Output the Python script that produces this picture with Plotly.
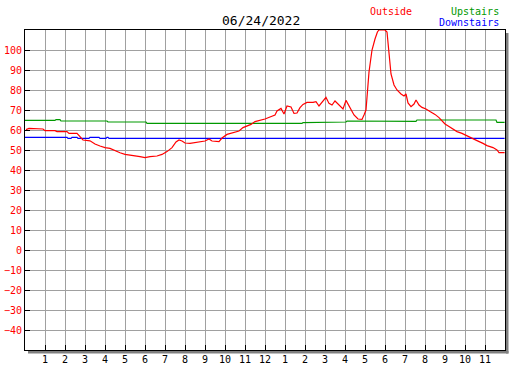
import plotly.graph_objects as go

title_text = "06/24/2022"

outside_hours = [0.05, 0.2, 0.9, 1.0, 1.5, 1.6, 2.1, 2.2, 2.6, 2.75, 2.9, 3.25, 3.5, 3.75, 4.0, 4.25,
                 4.5, 4.75, 5.0, 5.25, 5.5, 5.75, 6.0, 6.25, 6.6, 6.85, 7.1, 7.35, 7.55, 7.7, 7.85,
                 8.0, 8.25, 8.5, 8.75, 9.0, 9.2, 9.35, 9.7, 9.85, 10.1, 10.4, 10.7, 10.9, 11.1, 11.3,
                 11.5, 11.75, 12.0, 12.25, 12.5, 12.6, 12.8, 12.95, 13.1, 13.3, 13.45, 13.6, 13.75,
                 13.9, 14.1, 14.4, 14.55, 14.7, 14.9, 15.05, 15.2, 15.35, 15.5, 15.7, 15.9, 16.05,
                 16.25, 16.45, 16.65, 16.85, 16.95, 17.05, 17.2, 17.35, 17.5, 17.62, 17.7, 18.0,
                 18.1, 18.2, 18.3, 18.45, 18.6, 18.8, 18.95, 19.05, 19.15, 19.3, 19.45, 19.55, 19.7,
                 19.85, 20.05, 20.25, 20.5, 20.7, 20.85, 21.0, 21.2, 21.4, 21.6, 21.85, 22.1, 22.4,
                 22.6, 22.9, 23.1, 23.4, 23.6, 23.7, 23.98]
outside_values = [60.2, 60.8, 60.5, 59.7, 59.7, 59.2, 59.2, 58.3, 58.3, 56.8, 55.0, 54.6, 53.0, 52.0,
                  51.2, 50.8, 49.5, 48.6, 47.8, 47.5, 47.0, 46.7, 46.2, 46.7, 47.0, 47.8, 49.2, 51.2,
                  54.0, 55.0, 54.5, 53.5, 53.3, 53.7, 54.2, 54.5, 55.5, 54.5, 54.2, 56.0, 57.8, 58.5,
                  59.5, 61.2, 62.0, 62.8, 64.2, 64.8, 65.5, 66.5, 67.5, 69.5, 70.8, 68.0, 72.0, 71.5,
                  68.3, 68.5, 71.2, 72.8, 73.8, 73.8, 74.2, 72.0, 74.5, 76.3, 73.3, 72.5, 74.5, 72.5,
                  70.5, 74.8, 70.8, 67.5, 65.5, 65.3, 67.5, 70.0, 89.0, 100.0, 105.5, 109.0, 110.0,
                  110.0, 109.0, 100.0, 88.0, 82.5, 80.0, 78.0, 77.0, 78.0, 73.5, 71.7, 73.0, 75.0,
                  72.5, 71.3, 70.5, 69.2, 67.8, 66.2, 64.5, 63.0, 61.7, 60.3, 59.2, 58.3, 57.0, 55.8,
                  54.7, 53.3, 52.2, 51.2, 50.0, 48.7, 48.7]

upstairs_hours = [0.0, 1.5, 1.55, 1.75, 1.8, 4.1, 4.15, 6.05, 6.1, 13.85, 13.9, 16.0, 16.05, 16.1,
                  19.35, 19.4, 19.55, 19.6, 23.55, 23.6, 23.98]
upstairs_values = [64.8, 64.8, 65.2, 65.2, 64.5, 64.5, 64.0, 64.0, 63.3, 63.3, 63.7, 63.7, 64.0, 64.5,
                   64.5, 64.3, 64.3, 65.0, 65.0, 63.8, 63.8]

downstairs_hours = [0.0, 2.1, 2.15, 2.3, 2.35, 2.6, 2.65, 3.2, 3.25, 3.7, 3.75, 4.05, 4.1, 4.15, 4.2, 23.98]
downstairs_values = [56.3, 56.3, 55.8, 55.8, 56.3, 56.3, 55.8, 55.8, 56.3, 56.3, 55.8, 55.8, 56.3, 56.3,
                     55.8, 55.8]

x_tick_vals = list(range(1, 24))
x_tick_text = ["1", "2", "3", "4", "5", "6", "7", "8", "9", "10", "11", "12",
               "1", "2", "3", "4", "5", "6", "7", "8", "9", "10", "11"]
y_tick_vals = list(range(-40, 101, 10))

FONT = "DejaVu Sans Mono"

fig = go.Figure()
fig.add_trace(go.Scatter(x=upstairs_hours, y=upstairs_values, mode="lines",
                         line=dict(color="#009900", width=1.2), name="Upstairs"))
fig.add_trace(go.Scatter(x=downstairs_hours, y=downstairs_values, mode="lines",
                         line=dict(color="#0000ff", width=1.2), name="Downstairs"))
fig.add_trace(go.Scatter(x=outside_hours, y=outside_values, mode="lines",
                         line=dict(color="#ff0000", width=1.2), name="Outside"))

fig.update_layout(
    width=527, height=370,
    margin=dict(l=25, r=22, t=30, b=20, autoexpand=False),
    paper_bgcolor="white", plot_bgcolor="white",
    showlegend=False,
    font=dict(family=FONT, size=10, color="black"),
)
fig.update_xaxes(range=[0, 24], tickvals=x_tick_vals, ticktext=x_tick_text,
                 automargin=False,
                 showgrid=True, gridcolor="#a0a0a0", gridwidth=1,
                 ticks="inside", ticklen=5, tickcolor="black", tickwidth=1,
                 showline=True, linecolor="black", linewidth=1, mirror=True,
                 zeroline=False, tickfont=dict(family=FONT, size=10, color="black"),
                 fixedrange=True)
fig.update_yaxes(range=[-50, 110], tickvals=y_tick_vals,
                 automargin=False,
                 showgrid=True, gridcolor="#a0a0a0", gridwidth=1,
                 ticks="inside", ticklen=5, tickcolor="black", tickwidth=1,
                 showline=True, linecolor="black", linewidth=1, mirror=True,
                 zeroline=False, tickfont=dict(family=FONT, size=10, color="#ff0000"),
                 fixedrange=True)

# shadow of the plot frame
fig.add_shape(type="rect", xref="paper", yref="paper",
              x0=1 + 1 / 480, x1=1 + 3.5 / 480, y0=-3.5 / 320, y1=1 - 3 / 320,
              fillcolor="#808080", line_width=0, layer="below")
fig.add_shape(type="rect", xref="paper", yref="paper",
              x0=3 / 480, x1=1 + 3.5 / 480, y0=-3.5 / 320, y1=-1 / 320,
              fillcolor="#808080", line_width=0, layer="below")

fig.add_annotation(text=title_text, xref="paper", yref="paper",
                   x=(261 - 25) / 480, y=(350 - 20) / 320, showarrow=False,
                   xanchor="center", yanchor="middle",
                   font=dict(family=FONT, size=13, color="black"))
fig.add_annotation(text="Outside", xref="paper", yref="paper",
                   x=(391 - 25) / 480, y=(350 - 11) / 320, showarrow=False,
                   xanchor="center", yanchor="middle",
                   font=dict(family=FONT, size=10, color="#ff0000"))
fig.add_annotation(text="Upstairs", xref="paper", yref="paper",
                   x=(501 - 25) / 480, y=(350 - 11) / 320, showarrow=False,
                   xanchor="right", yanchor="middle",
                   font=dict(family=FONT, size=10, color="#009900"))
fig.add_annotation(text="Downstairs", xref="paper", yref="paper",
                   x=(501 - 25) / 480, y=(350 - 23) / 320, showarrow=False,
                   xanchor="right", yanchor="middle",
                   font=dict(family=FONT, size=10, color="#0000ff"))

fig.write_html("out.html", config={"displayModeBar": False, "staticPlot": True},
               post_script="document.body.style.margin='0';")
